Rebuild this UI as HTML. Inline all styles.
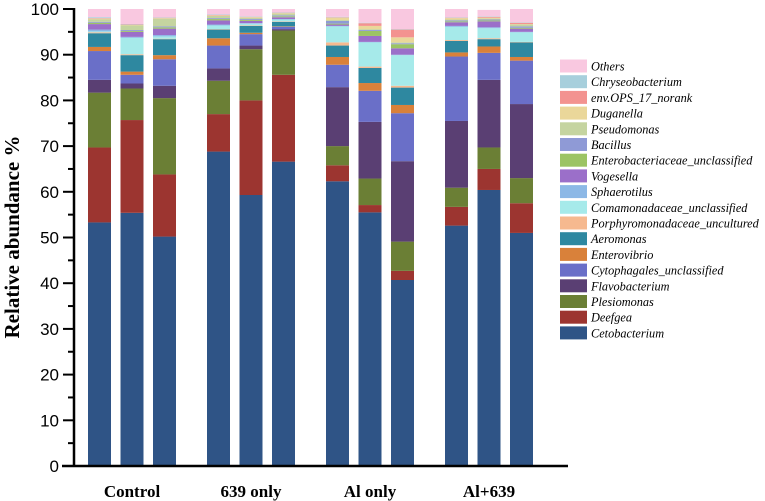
<!DOCTYPE html>
<html><head><meta charset="utf-8">
<style>
html,body{margin:0;padding:0;background:#fff;}
svg{display:block;}
</style></head>
<body>
<svg id="chart" width="765" height="501" viewBox="0 0 765 501" xmlns="http://www.w3.org/2000/svg">
<g id="bars"></g>
<g id="axes"></g>
<g id="legend"></g>
<text transform="translate(19,237) rotate(-90)" text-anchor="middle" font-family="Liberation Serif, serif" font-weight="bold" font-size="21">Relative abundance %</text>
</svg>
<script>
const groups = ["Control","639 only","Al only","Al+639"];
const taxa = ["Cetobacterium","Deefgea","Plesiomonas","Flavobacterium","Cytophagales_unclassified","Enterovibrio","Aeromonas","Porphyromonadaceae_uncultured","Comamonadaceae_unclassified","Sphaerotilus","Vogesella","Enterobacteriaceae_unclassified","Bacillus","Pseudomonas","Duganella","env.OPS_17_norank","Chryseobacterium","Others"];
const colors = ["#2f5486","#9c3530","#6b7f35","#5a3f73","#6a6fc8","#d9813a","#2e88a0","#f6b98f","#a6eaea","#8cb8e6","#9b6fc9","#9cc464","#8f9ad6","#c5d4a0","#ead79a","#f39390","#a7cfdc","#f9c8e0"];
const yTicks = [0,10,20,30,40,50,60,70,80,90,100];
// each sample: values per taxon, bottom to top
const c1 = [53.3,16.4,12.0,2.8,6.3,0.9,3.0,0.2,0.2,0.4,1.2,0.3,0.2,0.5,0.2,0.1,0.2,1.8];
const c2 = [55.4,20.3,6.9,1.1,1.9,0.7,3.6,0.2,3.6,0.2,1.1,0.2,0.2,1.0,0.1,0.1,0.1,3.3];
const c3 = [50.2,13.6,16.7,2.7,5.8,0.9,3.5,0.1,0.5,0.3,1.4,0.3,0.2,1.7,0.1,0.1,0.1,1.8];
const p1 = [68.8,8.2,7.3,2.7,5.0,1.6,1.9,0.1,0.8,0.2,0.9,0.3,0.2,0.5,0.1,0.1,0.1,1.7];
const p2 = [59.3,20.7,11.2,0.8,2.5,0.3,1.5,0.1,0.4,0.1,0.5,0.2,0.2,0.3,0.1,0.1,0.1,1.9];
const p3 = [66.6,19.0,9.7,0.3,0.5,0.1,1.0,0.1,0.4,0.1,0.4,0.2,0.2,0.4,0.1,0.1,0.1,1.2];
const a1 = [62.3,3.5,4.2,12.9,4.9,1.7,2.5,0.7,3.5,0.1,0.3,0.2,0.6,0.2,0.5,0.1,0.1,1.9];
const a2 = [55.5,1.6,5.8,12.4,6.8,1.7,3.3,0.3,5.3,0.1,1.3,1.1,0.2,0.2,0.7,0.6,0.1,3.0];
const a3 = [40.7,2.0,6.4,17.6,10.5,1.8,3.8,0.4,6.7,0.1,1.4,0.9,0.2,0.2,1.1,1.7,0.1,4.4];
const m1 = [52.6,4.1,4.2,14.6,14.1,0.9,2.5,0.2,2.9,0.2,0.8,0.2,0.2,0.2,0.3,0.1,0.1,1.8];
const m2 = [60.4,4.6,4.7,14.8,5.9,1.4,1.6,0.2,2.2,0.2,1.3,0.2,0.2,0.2,0.2,0.2,0.1,1.4];
const m3 = [51.0,6.5,5.5,16.2,9.5,0.8,3.2,0.1,2.1,0.1,0.7,0.2,0.3,0.4,0.1,0.3,0.1,3.0];
const samples = [[c1,c2,c3],[p1,p2,p3],[a1,a2,a3],[m1,m2,m3]];

const NS = "http://www.w3.org/2000/svg";
const y0 = 466, y1 = 9;
function yScale(v){ return y0 - (v/100)*(y0-y1); }
function xCenter(g,i){ return 99.5 + g*119 + i*32.5; }
const barW = 23;
function mk(tag, attrs, parent){ const e=document.createElementNS(NS,tag); for(const k in attrs) e.setAttribute(k,attrs[k]); parent.appendChild(e); return e; }

const barsG = document.getElementById("bars");
samples.forEach((grp,g)=>{
  grp.forEach((vals,i)=>{
    let cum = 0;
    vals.forEach((v,t)=>{
      const top = Math.min(cum+v,100);
      const r = mk("rect",{x:xCenter(g,i)-barW/2, y:yScale(top), width:barW, height:Math.max(0,yScale(cum)-yScale(top)), fill:colors[t]}, barsG);
      
      
      cum += v;
    });
  });
});

const ax = document.getElementById("axes");
let l = mk("line",{x1:74,y1:y1-1,x2:74,y2:y0+1,stroke:"#000","stroke-width":2.5},ax);


l = mk("line",{x1:62,y1:y0,x2:568,y2:y0,stroke:"#000","stroke-width":2.5},ax);


yTicks.forEach(t=>{
  const y=yScale(t);
  const tk = mk("line",{x1:63,y1:y,x2:74,y2:y,stroke:"#000","stroke-width":2},ax);
  
  
  if(t<100){
    const m = mk("line",{x1:68,y1:yScale(t+5),x2:74,y2:yScale(t+5),stroke:"#000","stroke-width":2},ax);
    
    
  }
  const tx = mk("text",{x:59,y:y+6,"text-anchor":"end","font-family":"Liberation Sans, sans-serif","font-size":17},ax);
  tx.textContent = t;
  
  
});
groups.forEach((gname,g)=>{
  const tx = mk("text",{x:xCenter(g,1),y:497,"text-anchor":"middle","font-family":"Liberation Serif, serif","font-weight":"bold","font-size":17},ax);
  tx.textContent = gname;
  
  
});

const lg = document.getElementById("legend");
for(let k=taxa.length-1;k>=0;k--){
  const row = taxa.length-1-k;
  const cy = 66 + row*15.7;
  const e = mk("g",{},lg);
  
  
  mk("rect",{x:560,y:cy-6.5,width:27,height:13,fill:colors[k]},e);
  const tx = mk("text",{x:591,y:cy+4.5,"font-family":"Liberation Serif, serif","font-style":"italic","font-size":12.3},e);
  tx.textContent = taxa[k];
}
</script>
</body></html>
